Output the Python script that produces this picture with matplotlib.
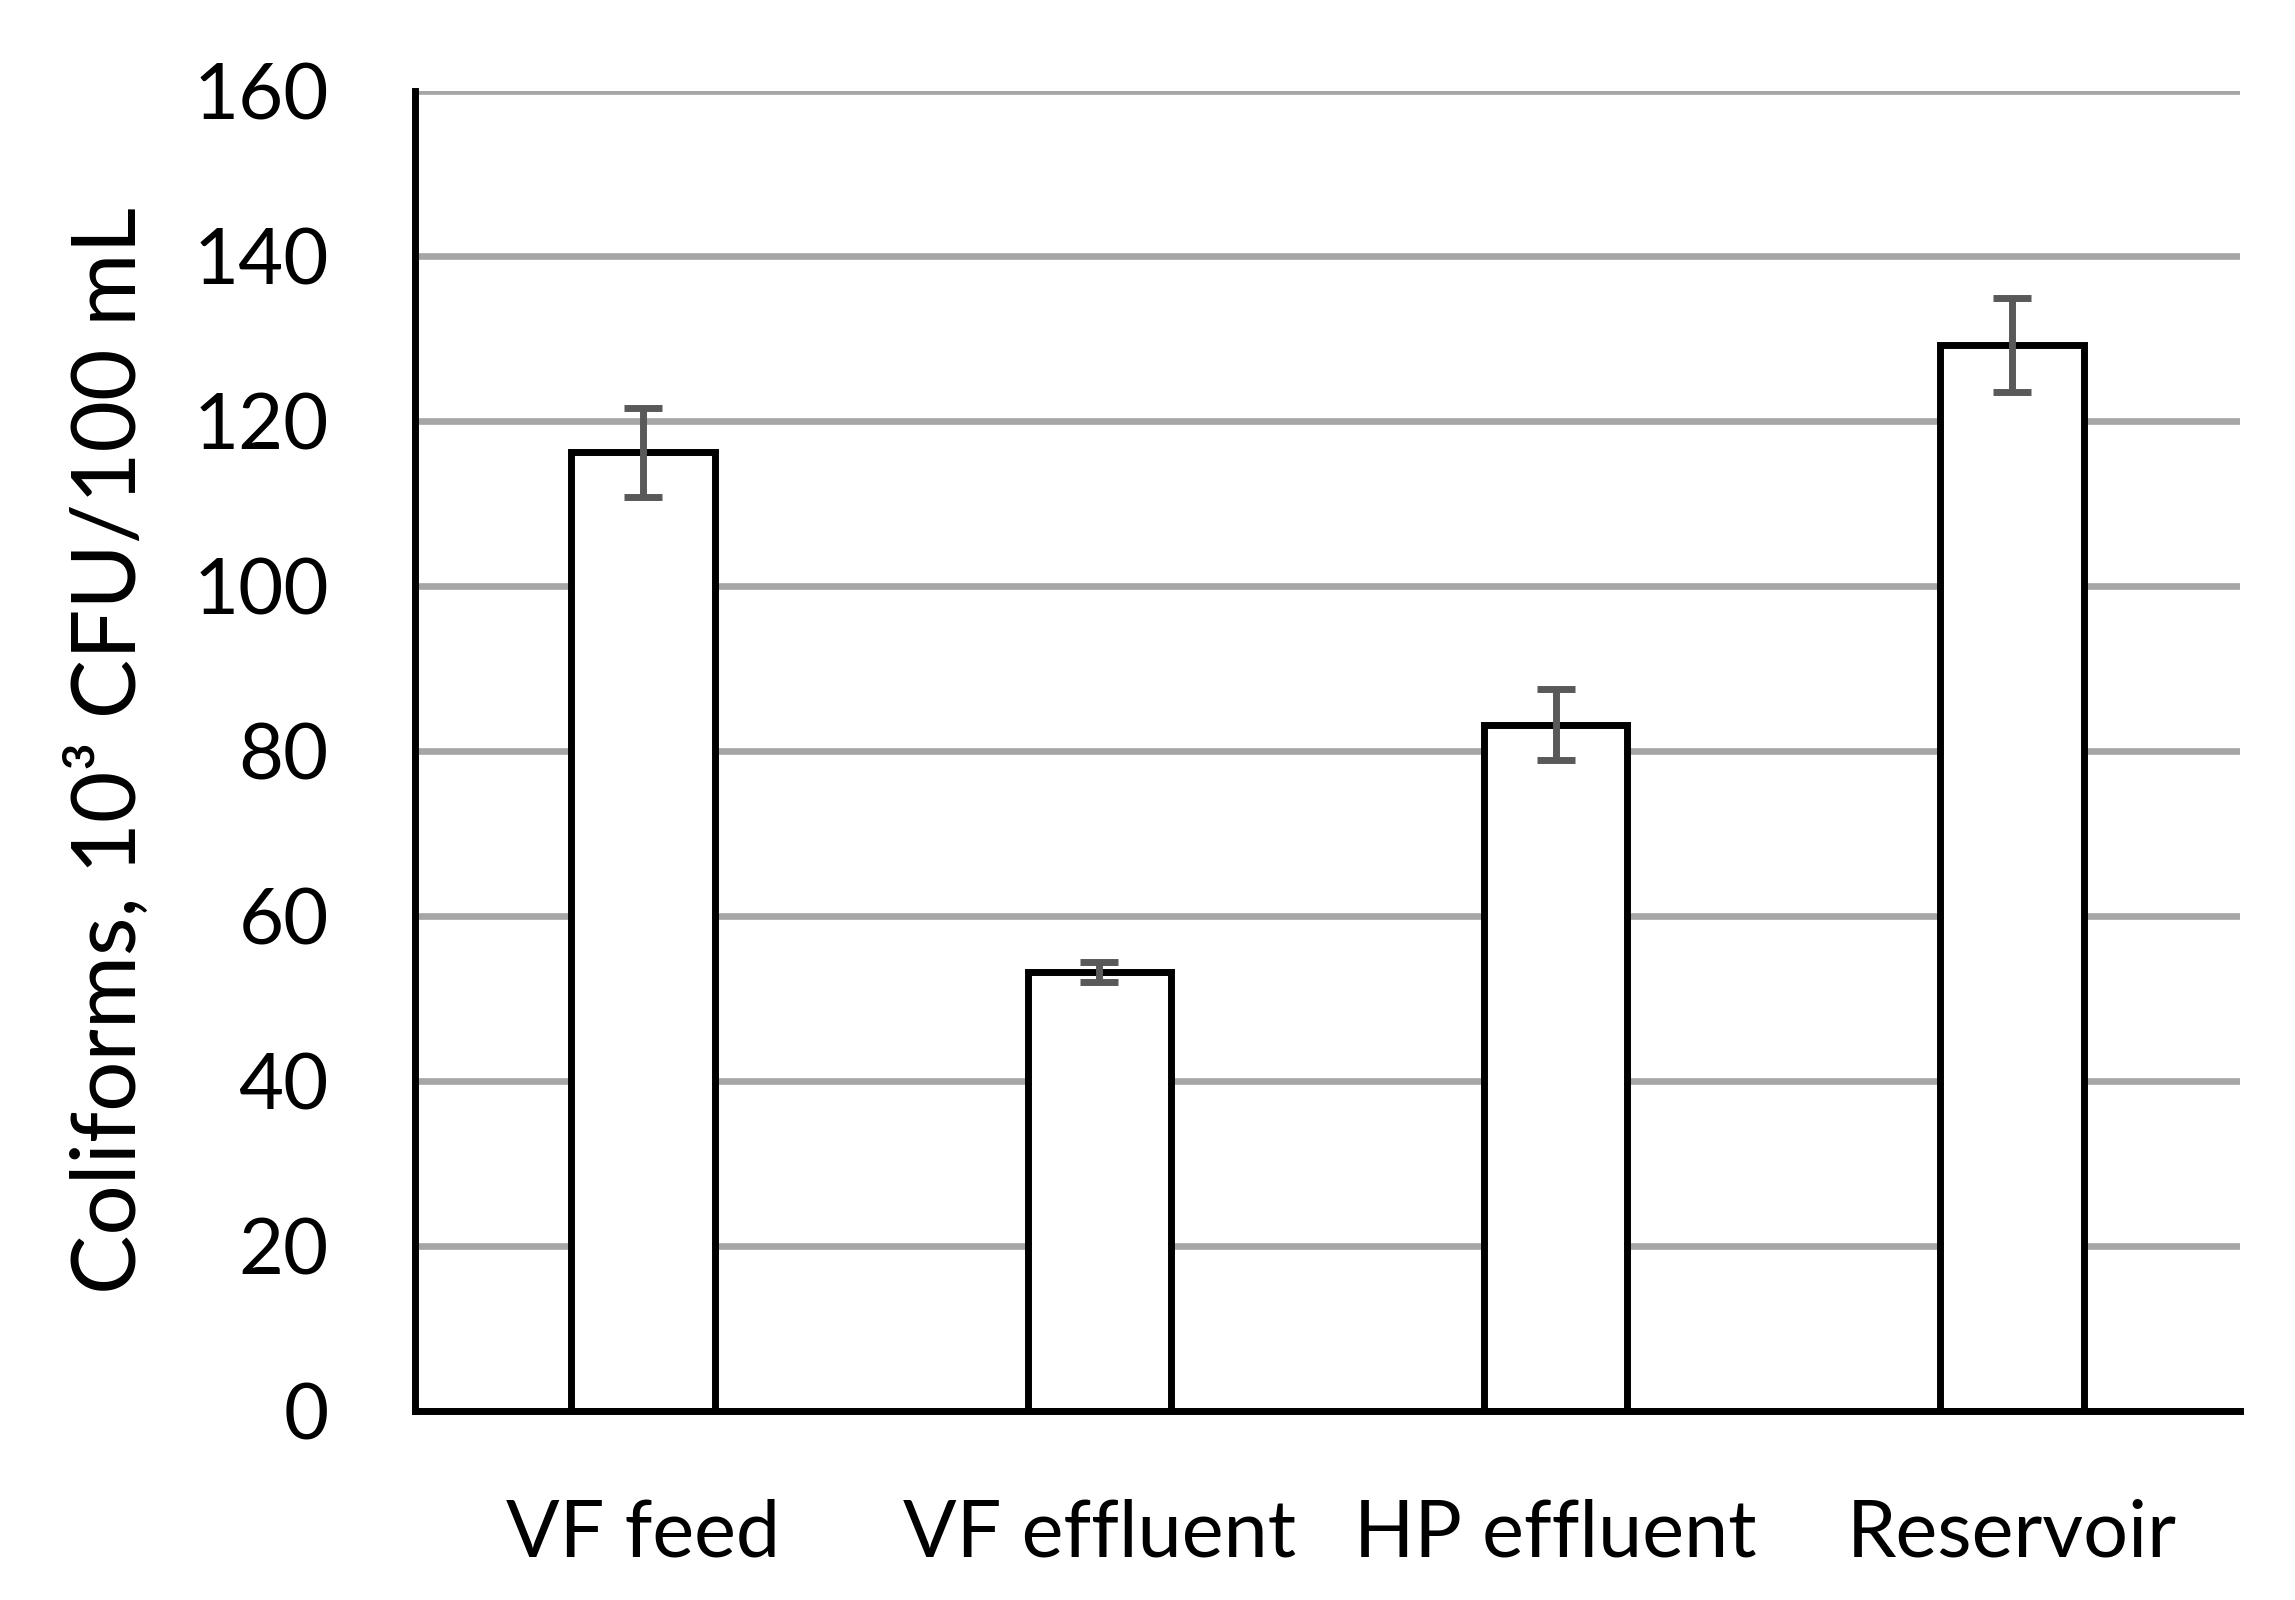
import matplotlib
matplotlib.use("Agg")
import matplotlib.pyplot as plt
import numpy as np

categories = ["VF feed", "VF effluent", "HP effluent", "Reservoir"]
values = [116.2, 53.2, 83.2, 129.2]
errors = [5.4, 1.2, 4.3, 5.7]
yticks = [0, 20, 40, 60, 80, 100, 120, 140, 160]

plt.rcParams['font.family'] = ['Lato', 'DejaVu Sans']

fig = plt.figure(figsize=(22.95, 16), dpi=100)
ax = fig.add_axes([415/2295, 1 - 1411/1600, (2240-415)/2295, (1411-91)/1600])

x = np.arange(len(categories))
ax.bar(x, values, width=0.314, color='white', edgecolor='black', linewidth=5, zorder=3)
ax.errorbar(x, values, yerr=errors, fmt='none', ecolor='#595959', elinewidth=5,
            capsize=14, capthick=5, zorder=4)

ax.set_xlim(-0.5, 3.5)
ax.set_ylim(0, 160)
ax.set_yticks(yticks)
ax.set_yticklabels([str(t) for t in yticks], fontsize=56)
ax.set_xticks(x)
ax.set_xticklabels(categories, fontsize=57)
ax.tick_params(axis='y', length=0, pad=62)
ax.tick_params(axis='x', length=0, pad=63)

ax.yaxis.grid(True, color='#A6A6A6', linewidth=4.8, zorder=0)
ax.set_axisbelow(True)
for s in ['top', 'right']:
    ax.spines[s].set_visible(False)
for s in ['left', 'bottom']:
    ax.spines[s].set_linewidth(5)
    ax.spines[s].set_color('black')
    ax.spines[s].set_zorder(5)

ax.set_ylabel("Coliforms, 10\u00b3 CFU/100 mL", fontsize=64)
ax.yaxis.set_label_coords(-(415-152)/(2240-415), 0.5)

fig.savefig("out.png", dpi=100, facecolor='white')
